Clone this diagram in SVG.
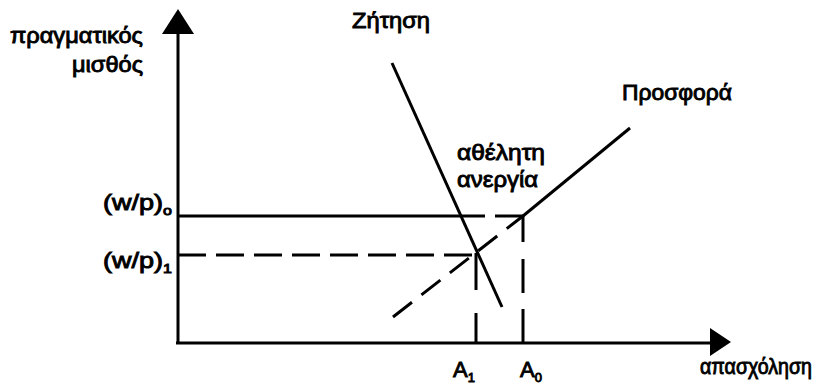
<svg xmlns="http://www.w3.org/2000/svg" width="826" height="385" viewBox="0 0 826 385">
<style>
text{font-family:"Liberation Sans",Arial,sans-serif;font-size:22px;fill:#000;stroke:#000;stroke-width:0.9}
.s{font-size:13px}
.ln{stroke:#000;stroke-width:3;fill:none}
</style>
<rect width="826" height="385" fill="#fff"/>
<g id="axes">
<line class="ln" x1="178" y1="344" x2="178" y2="30"/>
<polygon points="178,9 162,34 194,34" fill="#000"/>
<line class="ln" x1="176" y1="343" x2="712" y2="343"/>
<polygon points="731,342 710,328 710,356" fill="#000"/>
</g>
<g id="connectors">
<line class="ln" x1="178" y1="216" x2="485" y2="216"/>
<line class="ln" x1="495" y1="216" x2="523" y2="216"/>
<line class="ln" x1="178" y1="255" x2="475" y2="255" stroke-dasharray="28 10"/>
<line class="ln" x1="523" y1="216" x2="630" y2="128"/>
<line class="ln" x1="393" y1="317" x2="523" y2="216" stroke-dasharray="24 12"/>
<line class="ln" x1="392" y1="63" x2="502" y2="307"/>
<line class="ln" x1="476" y1="253" x2="476" y2="343" stroke-dasharray="37 23"/>
<line class="ln" x1="523" y1="216" x2="523" y2="343" stroke-dasharray="26 17 34 16 35"/>
</g>
<g id="labels">
<text x="143" y="43" text-anchor="end" textLength="133" lengthAdjust="spacingAndGlyphs">πραγματικός</text>
<text x="143" y="72" text-anchor="end" textLength="71" lengthAdjust="spacingAndGlyphs">μισθός</text>
<text x="352" y="28" textLength="78" lengthAdjust="spacingAndGlyphs">Ζήτηση</text>
<text x="622" y="100" textLength="110" lengthAdjust="spacingAndGlyphs">Προσφορά</text>
<text x="457" y="160" textLength="88" lengthAdjust="spacingAndGlyphs">αθέλητη</text>
<text x="457" y="187" textLength="81" lengthAdjust="spacingAndGlyphs">ανεργία</text>
<text x="103" y="210" textLength="69" lengthAdjust="spacingAndGlyphs">(w/p)<tspan class="s" dy="5">o</tspan></text>
<text x="103" y="268" textLength="69" lengthAdjust="spacingAndGlyphs">(w/p)<tspan class="s" dy="5">1</tspan></text>
<text x="453" y="377">A<tspan class="s" dy="5">1</tspan></text>
<text x="520" y="377">A<tspan class="s" dy="5">0</tspan></text>
<text x="700" y="374" font-size="20" textLength="112" lengthAdjust="spacingAndGlyphs">απασχόληση</text>
</g>
</svg>
